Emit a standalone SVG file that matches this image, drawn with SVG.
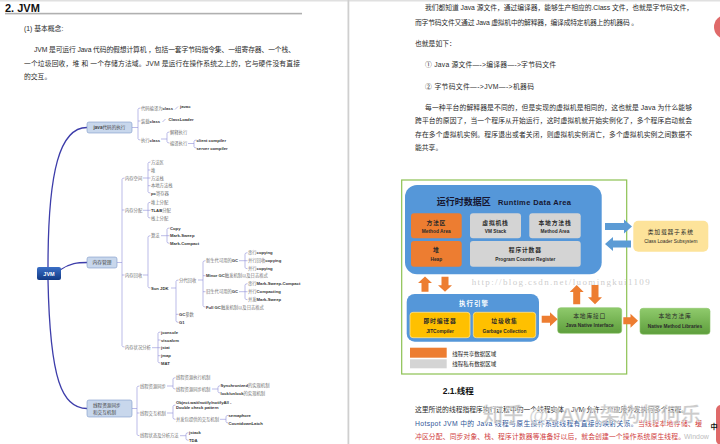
<svg xmlns="http://www.w3.org/2000/svg" width="720" height="444" viewBox="0 0 720 444">
<defs>
<style>
text{font-family:"Liberation Sans","Noto Sans CJK SC",sans-serif}
.p{font-size:6.8px;fill:#2a2a2a}
.c{font-size:4.3px;fill:#707070}
.e{font-weight:bold;fill:#333;font-size:4.2px}
.br{fill:none;stroke:#8f8fd8;stroke-width:0.6}
.mn{fill:none;stroke:#3d3daa;stroke-width:1.3;stroke-linecap:round}
.nd{fill:#c8d7ec;stroke:#7d98c9;stroke-width:0.6}
.bl{fill:#5597d9}
.or{fill:#ed7d31}
.gy{fill:#d4d4d4}
.yl{fill:#ffc000;stroke:#ffe28a;stroke-width:0.8}
.gn{fill:url(#gng);stroke:#8cc46a;stroke-width:0.6}
.ba{fill:#5b9bd5}
.oa{fill:#ed7d31}
.b1{font-size:5.8px;font-weight:bold;fill:#2a2a2a;text-anchor:middle;letter-spacing:0.8px}
.b2{font-size:4.8px;font-weight:bold;fill:#2a2a2a;text-anchor:middle}
</style>
<linearGradient id="jvmg" x1="0" y1="0" x2="0" y2="1"><stop offset="0" stop-color="#3b6fc6"/><stop offset="1" stop-color="#123a85"/></linearGradient>
<linearGradient id="gng" x1="0" y1="0" x2="0" y2="1"><stop offset="0" stop-color="#8fca6c"/><stop offset="1" stop-color="#5e9e3c"/></linearGradient>
</defs>
<rect width="720" height="444" fill="#fff"/>
<rect x="0" y="0" width="720" height="1.5" fill="#e0e0e0"/>
<rect x="347.5" y="0" width="1.8" height="444" fill="#cfcfcf"/>

<g id="left-text">
<text x="5" y="12" style="font-size:11px;font-weight:bold;fill:#111">2. JVM</text>
<rect x="5" y="12.8" width="297" height="1.6" fill="#b0b0b0"/>
<text class="p" x="24" y="31">(1) 基本概念:</text>
<text class="p" x="34" y="51.5" textLength="261" lengthAdjust="spacing">JVM 是可运行 Java 代码的假想计算机 ，包括一套字节码指令集、一组寄存器、一个栈、</text>
<text class="p" x="24" y="65.5" textLength="276" lengthAdjust="spacing">一个垃圾回收，堆 和 一个存储方法域。JVM 是运行在操作系统之上的，它与硬件没有直接</text>
<text class="p" x="24" y="78.5">的交互。</text>
</g>

<g id="connectors">
<path class="mn" d="M48,267 C48,170 60,127.5 87,127.5"/>
<path class="mn" d="M60,270 C70,263 78,262.5 87,262.5"/>
<path class="mn" d="M48,280 C50,380 62,408.5 87,408.5"/>
<path class="br" d="M132,127.5H138 M140.5,108Q138,108 138,109.5V138.5Q138,140 140.5,140 M138,121H140.5"/>
<path class="br" d="M175,109.5L178,106.5 M162.5,122L165.5,119"/>
<path class="br" d="M161,139H167 M169.5,132Q167,132 167,133.5V141.5Q167,143 169.5,143"/>
<path class="br" d="M188,143.5H194 M196.5,140Q194,140 194,141.5V146.5Q194,148 196.5,148"/>
<path class="br" d="M117,262.5H122 M124.5,178Q122,178 122,179.5V345.5Q122,347 124.5,347 M122,210H124.5 M122,275H124.5"/>
<path class="br" d="M143,178H148 M150.5,162Q148,162 148,163.5V191.5Q148,193 150.5,193 M148,170H150.5 M148,178H150.5 M148,185.7H150.5"/>
<path class="br" d="M143,210.3H150.5 M150.5,202.3Q148,202.3 148,203.8V216.5Q148,218 150.5,218"/>
<path class="br" d="M143,275H148 M150.5,235.7Q148,235.7 148,237.2V286.5Q148,288 150.5,288"/>
<path class="br" d="M161,235.7H169.5 M169.5,228Q167,228 167,229.5V241.8Q167,243.3 169.5,243.3"/>
<path class="br" d="M171,288H176 M178.5,280Q176,280 176,281.5V320.8Q176,322.3 178.5,322.3 M176,314.3H178.5"/>
<path class="br" d="M198,280H203 M205.5,260.7Q203,260.7 203,262.2V305.5Q203,307 205.5,307 M203,275.7H205.5 M203,291.7H205.5"/>
<path class="br" d="M239,260.7H247.5 M247.5,252.7Q245,252.7 245,254.2V267.2Q245,268.7 247.5,268.7"/>
<path class="br" d="M239,291.7H247.5 M247.5,283.7Q245,283.7 245,285.2V298.2Q245,299.7 247.5,299.7"/>
<path class="br" d="M152,347.7H160.5 M160.5,332Q158,332 158,333.5V361.5Q158,363 160.5,363 M158,340H160.5 M158,355.7H160.5"/>
<path class="br" d="M132,408.5H137 M139.5,386Q137,386 137,387.5V434.2Q137,435.7 139.5,435.7 M137,413H139.5"/>
<path class="br" d="M167,386H173 M175.5,377.7Q173,377.7 173,379.2V387.5Q173,389 175.5,389"/>
<path class="br" d="M212,389H218 M220.5,385.7Q218,385.7 218,387.2V391.5Q218,393 220.5,393"/>
<path class="br" d="M167,413H173 M175.5,405Q173,405 173,406.5V417.8Q173,419.3 175.5,419.3"/>
<path class="br" d="M220,419.3H226 M228.5,415.3Q226,415.3 226,416.8V421.5Q226,423 228.5,423"/>
<path class="br" d="M180,435.7H186 M188.5,432.7Q186,432.7 186,434.2V438.8Q186,440.3 188.5,440.3"/>
</g>

<g id="node-jvm">
<rect x="37" y="267" width="24" height="13" rx="2" fill="url(#jvmg)"/>
<text x="49" y="275.6" text-anchor="middle" style="font-size:5.5px;font-weight:bold;fill:#fff">JVM</text>
</g>
<g id="node-java">
<rect class="nd" x="87" y="122" width="45" height="11" rx="2"/>
<text x="109.5" y="129.2" text-anchor="middle" style="font-size:4.6px;fill:#444"><tspan font-weight="bold">java</tspan>代码的执行</text>
</g>
<g id="node-mem">
<rect class="nd" x="87" y="257" width="30" height="11" rx="2"/>
<text x="102" y="264.3" text-anchor="middle" style="font-size:4.8px;fill:#444">内存管理</text>
</g>
<g id="node-thread">
<rect class="nd" x="87" y="400" width="45" height="17" rx="2"/>
<text x="93" y="407" style="font-size:4.6px;fill:#444">线程资源同步</text>
<text x="93" y="414" style="font-size:4.6px;fill:#444">和交互机制</text>
</g>

<g id="java-leaves">
<text class="c" x="141" y="109.5">代码编译为<tspan class="e">class</tspan></text>
<text class="e" x="180" y="107.5">javac</text>
<text class="c" x="141" y="122.5">装载<tspan class="e">class</tspan></text>
<text class="e" x="168.5" y="120.5">ClassLoader</text>
<text class="c" x="141" y="141.5">执行<tspan class="e">class</tspan></text>
<text class="c" x="170" y="133.5">解释执行</text>
<text class="c" x="170" y="144.5">编译执行</text>
<text class="e" x="196.5" y="141.5">client compiler</text>
<text class="e" x="196.5" y="149.5">server compiler</text>
</g>

<g id="mem-leaves">
<text class="c" x="125" y="179.5">内存空间</text>
<text class="c" x="125" y="211.5">内存分配</text>
<text class="c" x="125" y="276.5">内存回收</text>
<text class="c" x="125" y="348.9">内存状况分析</text>
<text class="c" x="151" y="163.5">方法区</text>
<text class="c" x="151" y="171.5">堆</text>
<text class="c" x="151" y="179.5">方法栈</text>
<text class="c" x="151" y="187.2">本地方法栈</text>
<text class="c" x="151" y="194.5"><tspan class="e">pc</tspan>寄存器</text>
<text class="c" x="151" y="203.8">堆上分配</text>
<text class="c" x="151" y="211.8"><tspan class="e">TLAB</tspan>分配</text>
<text class="c" x="151" y="219.5">栈上分配</text>
<text class="c" x="151" y="237.2">算法</text>
<text class="e" x="151" y="289.5">Sun JDK</text>
<text class="e" x="170" y="229.5">Copy</text>
<text class="e" x="170" y="237.2">Mark-Sweep</text>
<text class="e" x="170" y="244.8">Mark-Compact</text>
<text class="c" x="179" y="281.5">分代回收</text>
<text class="c" x="179" y="315.8"><tspan class="e">GC</tspan>参数</text>
<text class="e" x="179" y="323.8">G1</text>
<text class="c" x="206" y="262.2">新生代可用的<tspan class="e">GC</tspan></text>
<text class="c" x="206" y="277.2"><tspan class="e">Minor GC</tspan>触发机制以及日志格式</text>
<text class="c" x="206" y="293.2">旧生代可用的<tspan class="e">GC</tspan></text>
<text class="c" x="206" y="308.5"><tspan class="e">Full GC</tspan>触发机制以及日志格式</text>
<text class="c" x="248" y="254.2">串行<tspan class="e">copying</tspan></text>
<text class="c" x="248" y="262.2">并行回收<tspan class="e">copying</tspan></text>
<text class="c" x="248" y="270.2">并行<tspan class="e">copying</tspan></text>
<text class="c" x="248" y="285.2">串行<tspan class="e">Mark-Sweep-Compact</tspan></text>
<text class="c" x="248" y="293.2">并行<tspan class="e">Compacting</tspan></text>
<text class="c" x="248" y="301.2">并发<tspan class="e">Mark-Sweep</tspan></text>
<text class="e" x="161" y="333.5">jconsole</text>
<text class="e" x="161" y="341.5">visualvm</text>
<text class="e" x="161" y="349.2">jstat</text>
<text class="e" x="161" y="357.2">jmap</text>
<text class="e" x="161" y="364.5">MAT</text>
</g>

<g id="thread-leaves">
<text class="c" x="140" y="387.5">线程资源同步</text>
<text class="c" x="140" y="414.5">线程交互机制</text>
<text class="c" x="140" y="437.2">线程状态及分析方法</text>
<text class="c" x="176" y="379.2">线程资源执行机制</text>
<text class="c" x="176" y="390.5">线程资源同步机制</text>
<text class="c" x="220.5" y="387.2"><tspan class="e">Synchronized</tspan>的实现机制</text>
<text class="c" x="220.5" y="394.5"><tspan class="e">lock/unlock</tspan>的实现机制</text>
<text class="e" x="176" y="404.2">Object.wait/notify/notifyAll -</text>
<text class="e" x="176" y="409.2">Double check pattern</text>
<text class="c" x="176" y="420.8">并发包提供的交互机制</text>
<text class="e" x="228.5" y="416.8">semaphore</text>
<text class="e" x="228.5" y="424.5">CountdownLatch</text>
<text class="e" x="189" y="434.2">jstack</text>
<text class="e" x="189" y="441.8">TDA</text>
</g>

<g id="right-text">
<text class="p" x="425" y="9.8" textLength="268" lengthAdjust="spacing">我们都知道 Java 源文件，通过编译器，能够生产相应的.Class 文件，也就是字节码文件，</text>
<text class="p" x="415" y="24.8" textLength="223" lengthAdjust="spacing">而字节码文件又通过 Java 虚拟机中的解释器，编译成特定机器上的机器码 。</text>
<text class="p" x="415" y="46">也就是如下：</text>
<text class="p" x="425" y="67" textLength="131" lengthAdjust="spacing">① Java 源文件—-&gt;编译器—-&gt;字节码文件</text>
<text class="p" x="425" y="88.5" textLength="109" lengthAdjust="spacing">② 字节码文件—-&gt;JVM—-&gt;机器码</text>
<text class="p" x="425" y="110" textLength="267" lengthAdjust="spacing">每一种平台的解释器是不同的，但是实现的虚拟机是相同的，这也就是 Java 为什么能够</text>
<text class="p" x="415" y="123.3" textLength="277" lengthAdjust="spacing">跨平台的原因了，当一个程序从开始运行，这时虚拟机就开始实例化了，多个程序启动就会</text>
<text class="p" x="415" y="136.6" textLength="277" lengthAdjust="spacing">存在多个虚拟机实例。程序退出或者关闭，则虚拟机实例消亡，多个虚拟机实例之间数据不</text>
<text class="p" x="415" y="150.2">能共享。</text>
</g>

<g id="figure">
<rect x="401.7" y="180" width="225" height="194" fill="none" stroke="#8cc152" stroke-width="1.2"/>
<g id="runtime-area">
<rect class="bl" x="405" y="185" width="196.7" height="89.3" rx="12"/>
<text x="436.7" y="205" style="font-size:9px;font-weight:bold;fill:#161630">运行时数据区</text>
<text x="498" y="204.5" textLength="73" style="font-size:7.5px;font-weight:bold;fill:#161630">Runtime Data Area</text>
</g>
<g id="method-area">
<rect class="or" x="411" y="213.3" width="50.7" height="25" rx="3"/>
<text class="b1" x="436.3" y="224.5">方法区</text>
<text class="b2" x="436.3" y="232.8">Method Area</text>
</g>
<g id="vm-stack">
<rect class="gy" x="470" y="213.3" width="51" height="25" rx="3"/>
<text class="b1" x="495.5" y="224.5">虚拟机栈</text>
<text class="b2" x="495.5" y="232.8">VM Stack</text>
</g>
<g id="native-stack">
<rect class="gy" x="529.3" y="213.3" width="51.4" height="25" rx="3"/>
<text class="b1" x="555" y="224.5">本地方法栈</text>
<text class="b2" x="555" y="232.8">Method Area</text>
</g>
<g id="heap">
<rect class="or" x="411" y="241" width="50.7" height="25.7" rx="3"/>
<text class="b1" x="436.3" y="252.2">堆</text>
<text class="b2" x="436.3" y="261">Heap</text>
</g>
<g id="pc-register">
<rect class="gy" x="470" y="241" width="110.7" height="25.7" rx="3"/>
<text class="b1" x="525.3" y="252.2">程序计数器</text>
<text class="b2" x="525.3" y="261">Program Counter Register</text>
</g>
<g id="class-loader">
<rect x="633.3" y="220.7" width="75" height="31" rx="5" fill="#fde39a"/>
<text class="b1" x="670.8" y="233.8" style="font-weight:normal">类加载器子系统</text>
<text class="b2" x="670.8" y="242.8" style="font-weight:normal">Class Loader Subsystem</text>
</g>
<g id="exec-engine">
<rect class="bl" x="406.7" y="294" width="132.3" height="47.7" rx="8"/>
<text x="474" y="305.6" text-anchor="middle" style="font-size:6.5px;font-weight:bold;fill:#fff;letter-spacing:1px">执行引擎</text>
</g>
<g id="jit">
<rect class="yl" x="410" y="312.3" width="60" height="25.4" rx="3"/>
<text class="b1" x="440" y="323.2">即时编译器</text>
<text class="b2" x="440" y="332.5">JITCompiler</text>
</g>
<g id="gc">
<rect class="yl" x="473.3" y="312.3" width="62.4" height="25.4" rx="3"/>
<text class="b1" x="504.5" y="323.2">垃圾收集</text>
<text class="b2" x="504.5" y="332.5">Garbage Collection</text>
</g>
<g id="jni">
<rect class="gn" x="557.7" y="307.7" width="64" height="25.6" rx="3"/>
<text class="b1" x="589.7" y="317.9" style="font-weight:normal">本地库接口</text>
<text class="b2" x="589.7" y="327.2">Java Native Interface</text>
</g>
<g id="native-libs">
<rect class="gn" x="640" y="308.3" width="70" height="26" rx="3"/>
<text class="b1" x="675" y="318.2" style="font-weight:normal">本地方法库</text>
<text class="b2" x="675" y="327.9">Native Method Libraries</text>
</g>
<g id="figure-arrows">
<polygon class="ba" points="605,223 624,223 624,219.5 632,226.5 624,233.5 624,230 605,230"/>
<polygon class="ba" points="631,240.5 613,240.5 613,237 605,244 613,251 613,247.5 631,247.5"/>
<polygon class="oa" points="425,276.5 432,283 428.5,283 428.5,291.7 421.5,291.7 421.5,283 418,283"/>
<polygon class="oa" points="445,291.7 452,285.2 448.5,285.2 448.5,276.7 441.5,276.7 441.5,285.2 438,285.2"/>
<polygon class="oa" points="576.7,285 583.7,292 580.2,292 580.2,304.3 573.2,304.3 573.2,292 569.7,292"/>
<polygon class="oa" points="595,304.3 602,297.3 598.5,297.3 598.5,285 591.5,285 591.5,297.3 588,297.3"/>
<polygon class="oa" points="541.7,315.8 550,315.8 550,312.3 557.7,319.3 550,326.3 550,322.8 541.7,322.8"/>
<polygon class="oa" points="623.3,317.2 630.5,317.2 630.5,313.7 638,320.7 630.5,327.7 630.5,324.2 623.3,324.2"/>
</g>
<text x="471.7" y="285" textLength="178" lengthAdjust="spacing" style="font-family:'Liberation Serif',serif;font-size:9px;fill:#c4c4c4;fill-opacity:0.85">http://blog.csdn.net/luomingkui1109</text>
<g id="legend">
<rect class="or" x="410" y="347.7" width="36.7" height="10"/>
<rect class="gy" x="410" y="359.3" width="36.7" height="9"/>
<text x="452.3" y="356.2" style="font-size:5.5px;fill:#222">线程共享数据区域</text>
<text x="452.3" y="366" style="font-size:5.5px;fill:#222">线程私有数据区域</text>
</g>
</g>

<g id="thread-section">
<text x="442.7" y="394" style="font-size:8.5px;font-weight:bold;fill:#111">2.1.线程</text>
<text class="p" x="415" y="411.5" textLength="273" lengthAdjust="spacing">这里所说的线程指程序执行过程中的一个线程实体。JVM 允许一个应用并发执行多个线程。</text>
<text class="p" x="415" y="425.8" textLength="287" lengthAdjust="spacing"><tspan fill="#2f5597">Hotspot JVM 中的 Java 线程与原生操作系统线程有直接的映射关系。</tspan><tspan fill="#d04040">当线程本地存储、缓</tspan></text>
<text class="p" x="415" y="438.5" textLength="270" lengthAdjust="spacing" style="fill:#d04040">冲区分配、同步对象、栈、程序计数器等准备好以后，就会创建一个操作系统原生线程。</text>
<text x="684" y="438.5" style="font-size:7px;fill:#bdbdbd">Window</text>
<text x="483" y="422" textLength="218" lengthAdjust="spacingAndGlyphs" style="font-size:20px;font-weight:bold;fill:#b5b5b5;fill-opacity:0.7;stroke:#fff;stroke-width:0.4">知乎 @JAVA架构师何乐</text>
</g>
<circle cx="726" cy="27" r="12" fill="#e06a6a"/>
<rect x="716" y="405" width="12" height="40" rx="5" fill="#e06a6a"/>
<text x="710.5" y="429" style="font-size:7px;font-weight:bold;fill:#111">中</text>
</svg>
